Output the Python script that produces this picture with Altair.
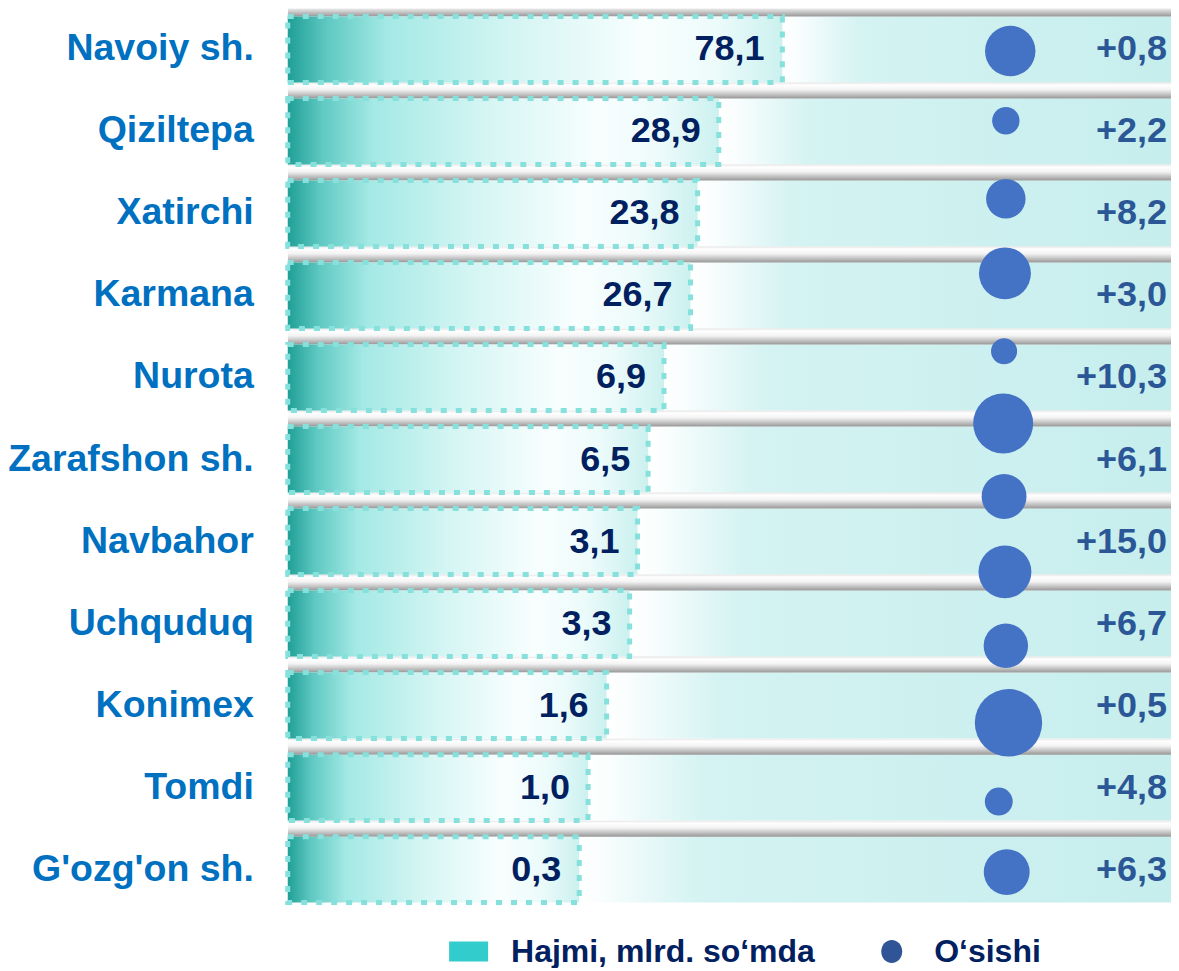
import altair as alt
import pandas as pd

# ---------------- data ----------------
categories = ["Navoiy sh.", "Qiziltepa", "Xatirchi", "Karmana", "Nurota",
              "Zarafshon sh.", "Navbahor", "Uchquduq", "Konimex", "Tomdi",
              "G'ozg'on sh."]
volume = [78.1, 28.9, 23.8, 26.7, 6.9, 6.5, 3.1, 3.3, 1.6, 1.0, 0.3]
growth = [0.8, 2.2, 8.2, 3.0, 10.3, 6.1, 15.0, 6.7, 0.5, 4.8, 6.3]
# displayed bar fill (share of the row track, %), as drawn in the picture
bar_fill_pct = [56.0, 48.8, 46.4, 45.6, 42.6, 40.8, 39.6, 38.7, 36.1, 34.0, 33.0]

# bubble series: 12 bubbles, vertical position in row units, horizontal in %
bubble_row = [0.02, 0.87, 1.82, 2.73, 3.68, 4.56, 5.45, 6.37, 7.27, 8.21, 9.17, 10.03]
bubble_x = [81.8, 81.3, 81.3, 81.2, 81.1, 81.0, 81.1, 81.2, 81.3, 81.6, 80.5, 81.4]
bubble_size = [25.5, 7.5, 15.6, 27.0, 6.8, 36.0, 20.2, 28.0, 19.8, 45.5, 7.8, 21.1]

legend_names = ["Hajmi, mlrd. so\u2018mda", "O\u2018sishi"]

# ---------------- tables ----------------
HALF_BAND = 0.402   # half height of a row band, in row units
SEP = 0.195         # height of the separator tube, in row units

def fmt(v):
    return f"{v:.1f}".replace(".", ",")

n = len(categories)
df = pd.DataFrame({
    "cat": categories,
    "share": bar_fill_pct,
    "vlabel": [fmt(v) for v in volume],
    "glabel": ["+" + fmt(v) for v in growth],
    "row": list(range(n)),
})
df["y_top"] = df["row"] - HALF_BAND
df["y_bot"] = df["row"] + HALF_BAND
df["s_top"] = df["row"] - HALF_BAND - SEP
df["s_bot"] = df["row"] - HALF_BAND
df["x0"] = 0
df["x100"] = 100

bub = pd.DataFrame({"brow": bubble_row, "bx": bubble_x, "bsize": bubble_size})
leg = pd.DataFrame({"name": legend_names})

FONT = "Liberation Sans"

bar_grad = {"gradient": "linear", "x1": 0, "y1": 0, "x2": 1, "y2": 0,
            "stops": [{"offset": 0, "color": "#1f9f96"},
                      {"offset": 0.08, "color": "#5fc9c2"},
                      {"offset": 0.2, "color": "#a4e9e5"},
                      {"offset": 0.45, "color": "#d3f5f3"},
                      {"offset": 0.72, "color": "#f8fefe"},
                      {"offset": 0.86, "color": "#eefbfb"},
                      {"offset": 1, "color": "#cbf1ef"}]}
band_grad = {"gradient": "linear", "x1": 0, "y1": 0, "x2": 1, "y2": 0,
             "stops": [{"offset": 0, "color": "#ffffff"},
                       {"offset": 0.03, "color": "#fbfefe"},
                       {"offset": 0.2, "color": "#d4f3f2"},
                       {"offset": 1, "color": "#c6eeed"}]}
sep_grad = {"gradient": "linear", "x1": 0, "y1": 0, "x2": 0, "y2": 1,
            "stops": [{"offset": 0, "color": "#e4e4e4"},
                      {"offset": 0.15, "color": "#ffffff"},
                      {"offset": 0.45, "color": "#f3f3f3"},
                      {"offset": 0.75, "color": "#c2c2c2"},
                      {"offset": 1, "color": "#979797"}]}

xscale = alt.Scale(domain=[0, 100], nice=False, zero=False)
yscale = alt.Scale(domain=[-0.5, 10.5], reverse=True, nice=False, zero=False)

X = lambda f: alt.X(f, type="quantitative", scale=xscale, axis=None)
Yq = lambda f: alt.Y(f, type="quantitative", scale=yscale, axis=None)

base = alt.Chart(df)

bands = base.mark_rect(fill=band_grad, opacity=1).encode(
    x=X("share"), x2="x100", y=Yq("y_top"), y2="y_bot")

seps = base.mark_rect(fill=sep_grad, opacity=1, clip=True).encode(
    x=X("x0"), x2="x100", y=Yq("s_top"), y2="s_bot")

bars = base.mark_rect(fill=bar_grad, stroke="#86e0db", strokeWidth=5,
                      strokeDash=[6, 9], opacity=1).encode(
    x=X("x0"), x2="share", y=Yq("y_top"), y2="y_bot")

vtext = base.mark_text(align="right", baseline="middle", dx=-18, font=FONT,
                       fontSize=36, fontWeight="bold", color="#002060").encode(
    x=X("share"), y=Yq("row"), text="vlabel:N")

gtext = base.mark_text(align="right", baseline="middle", dx=-4, font=FONT,
                       fontSize=36, fontWeight="bold", color="#2B5797").encode(
    x=X("x100"), y=Yq("row"), text="glabel:N")

ctext = base.mark_text(align="right", baseline="middle", dx=-34, font=FONT,
                       fontSize=37.5, fontWeight="bold", color="#0070C0").encode(
    x=X("x0"), y=Yq("row"), text="cat:N")

bubbles = alt.Chart(bub).mark_circle(color="#4472C4", opacity=1).encode(
    x=X("bx"), y=Yq("brow"),
    size=alt.Size("bsize:Q", scale=alt.Scale(domain=[0, 50], range=[0, 5000]),
                  legend=None),
)

rect_path = "M-1.95,-1L1.95,-1L1.95,1L-1.95,1Z"
ell_path = "M-1.05,0A1.05,1.15,0,1,1,1.05,0A1.05,1.15,0,1,1,-1.05,0Z"
legend_def = alt.Legend(
    title=None, orient="none", legendX=165, legendY=928,
    direction="horizontal", symbolSize=400, symbolStrokeWidth=0,
    symbolOpacity=1, labelFont=FONT, labelFontSize=32, labelFontWeight="bold",
    labelColor="#002060", labelOffset=26.5, columnPadding=60.5, labelLimit=0,
)
legend_layer = alt.Chart(leg).mark_point(filled=True, opacity=0).encode(
    color=alt.Color("name:N", scale=alt.Scale(domain=legend_names,
                                              range=["#33CCCC", "#2F5597"]),
                    legend=legend_def),
    shape=alt.Shape("name:N", scale=alt.Scale(domain=legend_names,
                                              range=[rect_path, ell_path]),
                    legend=legend_def),
)

chart = alt.layer(bands, seps, bars, vtext, gtext, ctext, bubbles,
                  legend_layer).properties(
    width=884, height=903, padding=0,
).configure_view(stroke=None)

chart.save("out.html", embed_options={"renderer": "svg", "actions": False})
